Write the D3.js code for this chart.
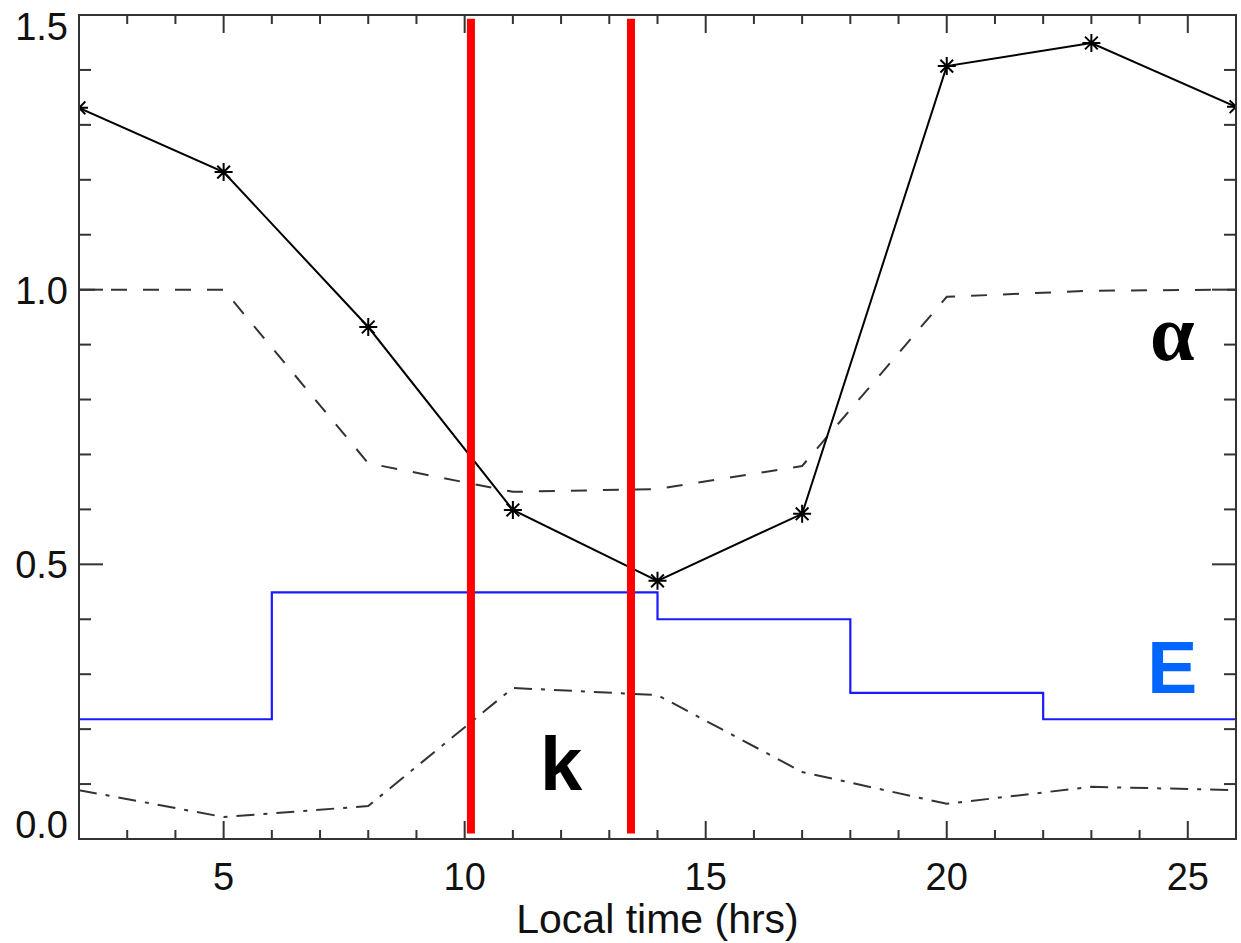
<!DOCTYPE html>
<html>
<head>
<meta charset="utf-8">
<script src="https://cdn.jsdelivr.net/npm/d3@7"></script>
<style>
  html, body { margin: 0; padding: 0; background: #fff; }
  svg { display: block; }
</style>
</head>
<body>
<svg id="chart" width="1241" height="943"></svg>
<script>
// ---- data ----
const hours = [2, 5, 8, 11, 14, 17, 20, 23, 26];
const ratio = [1.331, 1.214, 0.932, 0.599, 0.470, 0.592, 1.407, 1.449, 1.333];   // solid with asterisks
const alpha = [1.0, 1.0, 0.684, 0.632, 0.637, 0.679, 0.987, 0.998, 1.0];        // dashed
const kVals = [0.089, 0.040, 0.060, 0.275, 0.262, 0.122, 0.064, 0.095, 0.089];  // dash-dot
const eHours = [2, 6, 14, 18, 22, 26];
const eVals  = [0.218, 0.449, 0.400, 0.266, 0.218, 0.218];                      // blue step
const redHours = [10.13, 13.45];
const redSpan = [0.01, 1.493];
const xTicks = [5, 10, 15, 20, 25];
const yTicks = [0.0, 0.5, 1.0, 1.5];
const xLabel = "Local time (hrs)";

// ---- layout ----
const svg = d3.select("#chart");
const L = 79, R = 1236, T = 15, B = 839;
const x = d3.scaleLinear().domain([2, 26]).range([L, R]);
const y = d3.scaleLinear().domain([0, 1.5]).range([B, T]);
const axisColor = "#333";
const font = "'Liberation Sans', Arial, Helvetica, sans-serif";

svg.append("rect").attr("width", 1241).attr("height", 943).attr("fill", "#fff");

svg.append("defs").append("clipPath").attr("id", "clip")
  .append("rect").attr("x", L).attr("y", T).attr("width", R - L).attr("height", B - T);

const plot = svg.append("g").attr("clip-path", "url(#clip)");

// ---- series ----
const line = d3.line().x(d => x(d[0])).y(d => y(d[1]));

plot.append("path")
  .datum(hours.map((h, i) => [h, alpha[i]]))
  .attr("d", line).attr("fill", "none")
  .attr("stroke", "#333").attr("stroke-width", 2)
  .attr("stroke-dasharray", "16,16");

plot.append("path")
  .datum(hours.map((h, i) => [h, kVals[i]]))
  .attr("d", line).attr("fill", "none")
  .attr("stroke", "#333").attr("stroke-width", 2)
  .attr("stroke-dasharray", "18,9,4,9");

plot.append("path")
  .datum(eHours.map((h, i) => [h, eVals[i]]))
  .attr("d", d3.line().curve(d3.curveStepAfter).x(d => x(d[0])).y(d => y(d[1])))
  .attr("fill", "none").attr("stroke", "#1a1aff").attr("stroke-width", 2.2);

plot.append("path")
  .datum(hours.map((h, i) => [h, ratio[i]]))
  .attr("d", line).attr("fill", "none")
  .attr("stroke", "#000").attr("stroke-width", 2);

// asterisk symbol (plus + x)
const asterisk = {
  draw(ctx, size) {
    const r = Math.sqrt(size) / 2;
    const d = r * Math.SQRT1_2;
    ctx.moveTo(-r, 0); ctx.lineTo(r, 0);
    ctx.moveTo(0, -r); ctx.lineTo(0, r);
    ctx.moveTo(-d, -d); ctx.lineTo(d, d);
    ctx.moveTo(-d, d); ctx.lineTo(d, -d);
  }
};
plot.selectAll("path.star")
  .data(hours.map((h, i) => [h, ratio[i]]))
  .join("path").attr("class", "star")
  .attr("transform", d => `translate(${x(d[0])},${y(d[1])})`)
  .attr("d", d3.symbol().type(asterisk).size(324))
  .attr("fill", "none").attr("stroke", "#000").attr("stroke-width", 2);

// ---- axes ----
const minorX = d3.range(3, 26, 1).filter(v => !xTicks.includes(v));
const minorY = d3.range(1, 15).map(v => v / 10).filter(v => !yTicks.some(t => Math.abs(t - v) < 1e-9));

const axG = svg.append("g").attr("stroke", axisColor).attr("stroke-width", 2);
xTicks.forEach(v => {
  axG.append("line").attr("x1", x(v)).attr("x2", x(v)).attr("y1", B).attr("y2", B - 18);
  axG.append("line").attr("x1", x(v)).attr("x2", x(v)).attr("y1", T).attr("y2", T + 18);
});
minorX.forEach(v => {
  axG.append("line").attr("x1", x(v)).attr("x2", x(v)).attr("y1", B).attr("y2", B - 9);
  axG.append("line").attr("x1", x(v)).attr("x2", x(v)).attr("y1", T).attr("y2", T + 9);
});
yTicks.forEach(v => {
  axG.append("line").attr("y1", y(v)).attr("y2", y(v)).attr("x1", L).attr("x2", L + 24);
  axG.append("line").attr("y1", y(v)).attr("y2", y(v)).attr("x1", R).attr("x2", R - 24);
});
minorY.forEach(v => {
  axG.append("line").attr("y1", y(v)).attr("y2", y(v)).attr("x1", L).attr("x2", L + 12);
  axG.append("line").attr("y1", y(v)).attr("y2", y(v)).attr("x1", R).attr("x2", R - 12);
});
svg.append("rect").attr("x", L).attr("y", T).attr("width", R - L).attr("height", B - T)
  .attr("fill", "none").attr("stroke", axisColor).attr("stroke-width", 2);

// tick labels
svg.append("g").selectAll("text").data(xTicks).join("text")
  .attr("x", d => x(d)).attr("y", 890)
  .attr("text-anchor", "middle")
  .attr("font-family", font).attr("font-size", 38).attr("fill", "#111")
  .text(d => d);

svg.append("g").selectAll("text").data(yTicks).join("text")
  .attr("x", 68)
  .attr("y", d => {
    const yy = y(d) + 14;
    return Math.min(Math.max(yy, T + 25), B - 1);
  })
  .attr("text-anchor", "end")
  .attr("font-family", font).attr("font-size", 38).attr("fill", "#111")
  .text(d => d.toFixed(1));

svg.append("text")
  .attr("x", (L + R) / 2).attr("y", 933)
  .attr("text-anchor", "middle")
  .attr("font-family", font).attr("font-size", 41).attr("fill", "#111")
  .text(xLabel);

// ---- annotations ----
svg.append("text").attr("x", x(24.68)).attr("y", y(0.872))
  .attr("text-anchor", "middle")
  .attr("font-family", "'Liberation Serif', 'Times New Roman', serif")
  .attr("font-weight", "bold").attr("font-size", 80).attr("fill", "#000")
  .text("α");
svg.append("text").attr("x", x(24.68)).attr("y", y(0.266))
  .attr("text-anchor", "middle")
  .attr("font-family", font).attr("font-weight", "bold")
  .attr("font-size", 75).attr("fill", "#0066ff")
  .text("E");
svg.append("text").attr("x", x(12.0)).attr("y", y(0.089))
  .attr("text-anchor", "middle")
  .attr("font-family", font).attr("font-weight", "bold")
  .attr("font-size", 76).attr("fill", "#000")
  .text("k");

// red markers
svg.append("g").selectAll("line").data(redHours).join("line")
  .attr("x1", d => x(d)).attr("x2", d => x(d))
  .attr("y1", y(redSpan[0])).attr("y2", y(redSpan[1]))
  .attr("stroke", "#ff0000").attr("stroke-width", 8);
</script>
</body>
</html>
